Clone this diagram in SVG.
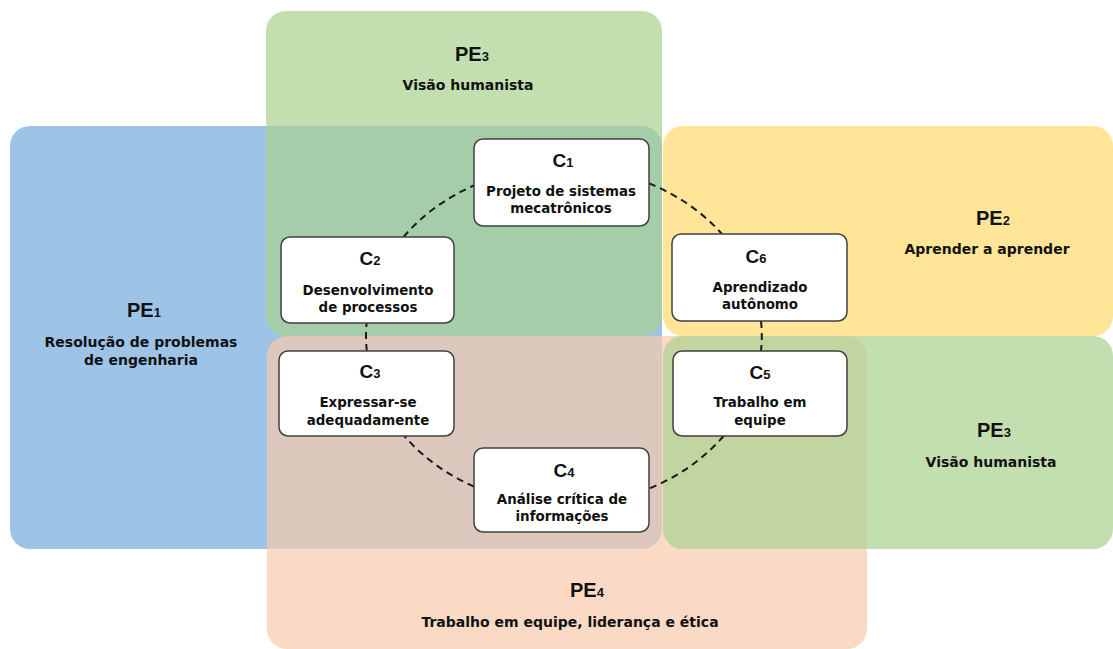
<svg xmlns="http://www.w3.org/2000/svg" width="1113" height="649" viewBox="0 0 1113 649">
<style>
.pe{fill:#111;font-family:"Liberation Sans",Arial,sans-serif;font-weight:bold;text-anchor:middle}
.pt{font-size:20px}
.ps{font-size:14px;font-family:"DejaVu Sans",sans-serif}
.sub{font-size:13px}
.node rect{fill:#fff;stroke:#404040;stroke-width:1.5}
.ct{font-size:19px}
.nt{font-size:13.4px;font-family:"DejaVu Sans",sans-serif}
.conn path{fill:none;stroke:#1a1a1a;stroke-width:2;stroke-dasharray:7 5}
</style>
<rect width="1113" height="649" fill="#fff"/>
<g id="panels">
<g id="pe1"><rect x="10" y="126" width="652" height="423" rx="20" fill="#9dc3e6"/></g>
<g id="pe3-top"><rect x="266" y="11" width="396" height="325" rx="20" fill="#a9d18e" fill-opacity="0.7"/></g>
<g id="pe2"><rect x="663" y="126" width="450" height="210" rx="20" fill="#ffd966" fill-opacity="0.68"/></g>
<g id="pe4"><rect x="267" y="336" width="600" height="313" rx="20" fill="#f8cbad" fill-opacity="0.7"/></g>
<g id="pe3-right"><rect x="663" y="336" width="450" height="213" rx="20" fill="#a9d18e" fill-opacity="0.7"/></g>
</g>
<g id="panel-labels" class="pe">
<text x="472" y="61" class="pt">PE<tspan class="sub">3</tspan></text>
<text x="468" y="90" class="ps">Visão humanista</text>
<text x="144" y="317" class="pt">PE<tspan class="sub">1</tspan></text>
<text x="141" y="347" class="ps">Resolução de problemas</text>
<text x="141" y="365" class="ps">de engenharia</text>
<text x="993" y="225" class="pt">PE<tspan class="sub">2</tspan></text>
<text x="987" y="254" class="ps">Aprender a aprender</text>
<text x="994" y="437" class="pt">PE<tspan class="sub">3</tspan></text>
<text x="991" y="467" class="ps">Visão humanista</text>
<text x="587" y="597" class="pt">PE<tspan class="sub">4</tspan></text>
<text x="570" y="627" class="ps">Trabalho em equipe, liderança e ética</text>
</g>
<g id="connectors" class="conn">
<path d="M649,183.4 A198,169 0 0 1 722,234"/>
<path d="M761,321 A198,169 0 0 1 761,351"/>
<path d="M723.6,436 A198,169 0 0 1 649,488.6"/>
<path d="M474,486.5 A198,169 0 0 1 404.4,436"/>
<path d="M366.8,351 A198,169 0 0 1 366.6,323"/>
<path d="M403.5,237 A198,169 0 0 1 474,185.5"/>
</g>
<g id="c1" class="node pe">
<rect x="474" y="139" width="175" height="87" rx="9"/>
<text x="563" y="167" class="ct">C<tspan class="sub">1</tspan></text>
<text x="561" y="196" class="nt">Projeto de sistemas</text>
<text x="561" y="213" class="nt">mecatrônicos</text>
</g>
<g id="c2" class="node pe">
<rect x="281" y="237" width="173" height="86" rx="9"/>
<text x="370" y="265" class="ct">C<tspan class="sub">2</tspan></text>
<text x="368" y="295" class="nt">Desenvolvimento</text>
<text x="368" y="312" class="nt">de processos</text>
</g>
<g id="c3" class="node pe">
<rect x="279" y="351" width="175" height="85" rx="9"/>
<text x="370" y="378" class="ct">C<tspan class="sub">3</tspan></text>
<text x="368" y="407" class="nt">Expressar-se</text>
<text x="368" y="425" class="nt">adequadamente</text>
</g>
<g id="c4" class="node pe">
<rect x="474" y="448" width="175" height="84" rx="9"/>
<text x="564" y="477" class="ct">C<tspan class="sub">4</tspan></text>
<text x="562" y="504" class="nt">Análise crítica de</text>
<text x="562" y="521" class="nt">informações</text>
</g>
<g id="c5" class="node pe">
<rect x="673" y="351" width="174" height="85" rx="9"/>
<text x="760" y="379" class="ct">C<tspan class="sub">5</tspan></text>
<text x="760" y="407" class="nt">Trabalho em</text>
<text x="760" y="425" class="nt">equipe</text>
</g>
<g id="c6" class="node pe">
<rect x="672" y="234" width="175" height="87" rx="9"/>
<text x="756" y="263" class="ct">C<tspan class="sub">6</tspan></text>
<text x="760" y="292" class="nt">Aprendizado</text>
<text x="760" y="309" class="nt">autônomo</text>
</g>
</svg>
